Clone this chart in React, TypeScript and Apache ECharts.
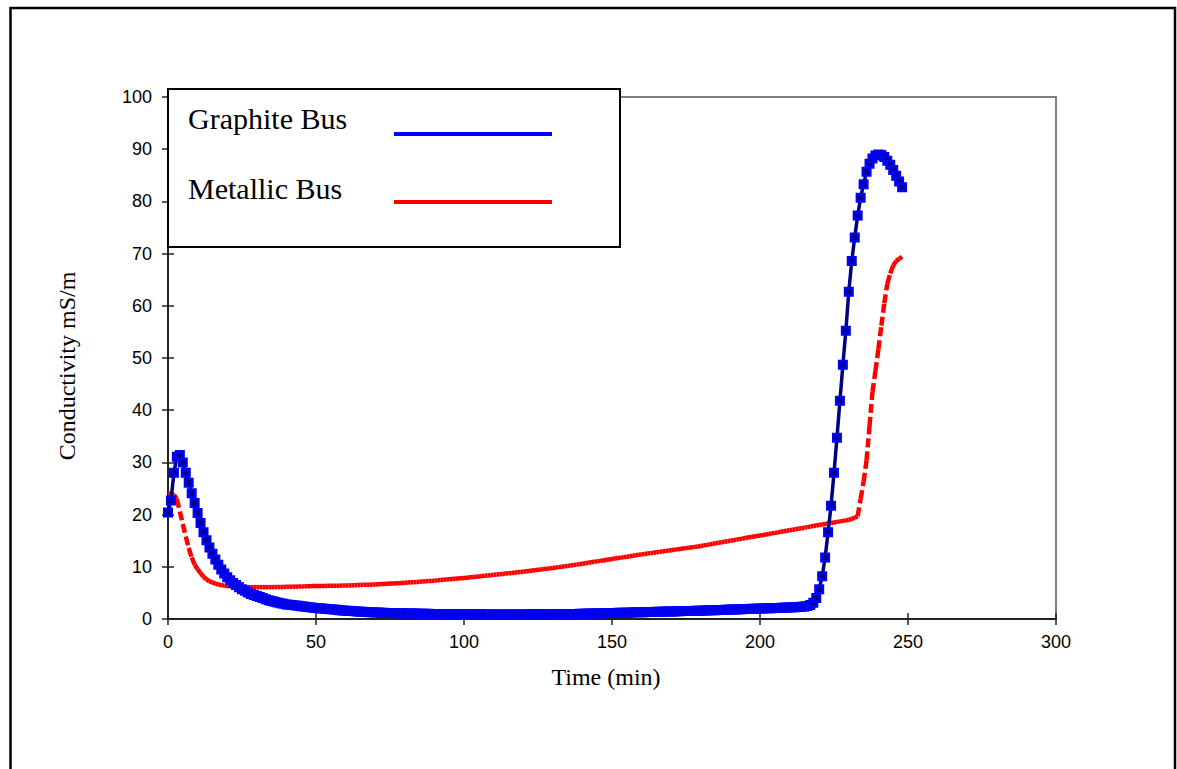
import React, { useEffect, useRef } from "react";
import * as echarts from "echarts";

// Data logged once per minute, starting at t = 0 min
const sampleIntervalMin = 1;

const graphiteBus = [
  20.4, 22.7, 28.0, 31.1, 31.4, 30.0, 28.0, 26.1, 24.1, 22.2,
  20.3, 18.4, 16.6, 15.1, 13.7, 12.5, 11.4, 10.4, 9.5, 8.7,
  8.0, 7.4, 6.9, 6.5, 6.1, 5.7, 5.4, 5.1, 4.8, 4.6,
  4.4, 4.2, 4.0, 3.8, 3.6, 3.45, 3.3, 3.15, 3.0, 2.9,
  2.8, 2.73, 2.66, 2.59, 2.52, 2.45, 2.38, 2.31, 2.24, 2.17,
  2.1, 2.05, 2.0, 1.95, 1.9, 1.85, 1.8, 1.75, 1.7, 1.65,
  1.6, 1.56, 1.52, 1.48, 1.44, 1.4, 1.37, 1.34, 1.31, 1.28,
  1.25, 1.23, 1.21, 1.19, 1.17, 1.15, 1.14, 1.12, 1.11, 1.09,
  1.08, 1.07, 1.06, 1.05, 1.03, 1.02, 1.01, 1.0, 0.99, 0.98,
  0.97, 0.96, 0.95, 0.95, 0.94, 0.93, 0.92, 0.92, 0.91, 0.91,
  0.9, 0.9, 0.9, 0.89, 0.89, 0.89, 0.89, 0.88, 0.88, 0.88,
  0.88, 0.88, 0.88, 0.88, 0.88, 0.88, 0.88, 0.88, 0.88, 0.88,
  0.88, 0.88, 0.89, 0.89, 0.89, 0.9, 0.9, 0.9, 0.91, 0.91,
  0.92, 0.93, 0.93, 0.94, 0.95, 0.96, 0.96, 0.97, 0.98, 0.99,
  1.0, 1.01, 1.03, 1.04, 1.06, 1.07, 1.09, 1.1, 1.12, 1.13,
  1.15, 1.16, 1.18, 1.19, 1.21, 1.22, 1.24, 1.25, 1.27, 1.28,
  1.3, 1.31, 1.33, 1.34, 1.36, 1.37, 1.39, 1.4, 1.42, 1.43,
  1.45, 1.46, 1.48, 1.49, 1.51, 1.52, 1.54, 1.55, 1.57, 1.58,
  1.6, 1.62, 1.64, 1.66, 1.68, 1.7, 1.72, 1.74, 1.76, 1.78,
  1.8, 1.82, 1.84, 1.86, 1.88, 1.9, 1.92, 1.94, 1.96, 1.98,
  2.0, 2.02, 2.04, 2.06, 2.08, 2.1, 2.12, 2.14, 2.16, 2.18,
  2.2, 2.23, 2.26, 2.3, 2.34, 2.4, 2.5, 2.7, 3.1, 4.0,
  5.7, 8.2, 11.8, 16.6, 21.7, 28.0, 34.7, 41.8, 48.7, 55.2,
  62.7, 68.6, 73.1, 77.3, 80.7, 83.3, 85.7, 87.2, 88.2, 88.8,
  89.0, 88.9, 88.5, 87.8, 87.0, 86.0, 84.9, 83.8, 82.7,
];

const metallicBus = [
  24.0, 24.0, 23.8, 23.0, 20.6, 18.2, 15.8, 13.6, 11.8, 10.4,
  9.5, 8.8, 8.1, 7.6, 7.2, 7.0, 6.8, 6.6, 6.5, 6.4,
  6.3, 6.25, 6.2, 6.2, 6.15, 6.15, 6.1, 6.1, 6.1, 6.1,
  6.1, 6.1, 6.1, 6.1, 6.1, 6.1, 6.12, 6.12, 6.14, 6.15,
  6.16, 6.18, 6.2, 6.2, 6.22, 6.24, 6.25, 6.26, 6.28, 6.3,
  6.31, 6.32, 6.33, 6.34, 6.35, 6.36, 6.37, 6.38, 6.39, 6.4,
  6.42, 6.44, 6.46, 6.48, 6.5, 6.52, 6.54, 6.56, 6.58, 6.6,
  6.63, 6.66, 6.69, 6.72, 6.75, 6.78, 6.81, 6.84, 6.87, 6.9,
  6.94, 6.98, 7.02, 7.06, 7.1, 7.14, 7.18, 7.22, 7.26, 7.3,
  7.35, 7.4, 7.45, 7.5, 7.55, 7.6, 7.65, 7.7, 7.75, 7.8,
  7.86, 7.92, 7.98, 8.04, 8.1, 8.16, 8.22, 8.28, 8.34, 8.4,
  8.46, 8.52, 8.58, 8.64, 8.7, 8.76, 8.82, 8.88, 8.94, 9.0,
  9.07, 9.14, 9.21, 9.28, 9.35, 9.42, 9.49, 9.56, 9.63, 9.7,
  9.78, 9.86, 9.94, 10.02, 10.1, 10.18, 10.26, 10.34, 10.42, 10.5,
  10.59, 10.68, 10.77, 10.86, 10.95, 11.04, 11.13, 11.22, 11.31, 11.4,
  11.49, 11.58, 11.67, 11.76, 11.85, 11.94, 12.03, 12.12, 12.21, 12.3,
  12.38, 12.46, 12.54, 12.62, 12.7, 12.78, 12.86, 12.94, 13.02, 13.1,
  13.18, 13.26, 13.34, 13.42, 13.5, 13.58, 13.66, 13.74, 13.82, 13.9,
  14.0, 14.1, 14.2, 14.3, 14.4, 14.5, 14.6, 14.7, 14.8, 14.9,
  15.0, 15.1, 15.2, 15.3, 15.4, 15.5, 15.6, 15.7, 15.8, 15.9,
  16.0, 16.1, 16.2, 16.3, 16.4, 16.5, 16.6, 16.7, 16.8, 16.9,
  17.0, 17.1, 17.2, 17.3, 17.4, 17.5, 17.6, 17.7, 17.8, 17.9,
  18.0, 18.1, 18.2, 18.3, 18.4, 18.5, 18.6, 18.7, 18.8, 18.9,
  19.0, 19.2, 19.4, 19.7, 23.0, 26.3, 30.4, 37.0, 43.5, 47.5,
  51.7, 56.2, 60.5, 64.2, 66.2, 67.7, 68.6, 69.0, 69.4,
];

const seriesNames = ["Graphite Bus", "Metallic Bus"];
const xAxisTitle = "Time (min)";
const yAxisTitle = "Conductivity mS/m";
const xRange = { min: 0, max: 300, interval: 50 };
const yRange = { min: 0, max: 100, interval: 10 };

const AXIS_COLOR = "#222";
const GRID = { left: 168, right: 121, top: 97, bottom: 150 };

export default function App() {
  const ref = useRef<HTMLDivElement>(null);

  useEffect(() => {
    document.body.style.margin = "0";
    const chart = echarts.init(ref.current!, undefined, { renderer: "svg" });

    const graphiteData = graphiteBus.map((v, i) => [i * sampleIntervalMin, v]);
    const metallicSegments = metallicBus.slice(1).map((v, k) => [
      (k + 1) * sampleIntervalMin,
      v,
      k * sampleIntervalMin,
      metallicBus[k],
    ]);

    const labelStyle = {
      color: "#000",
      fontFamily: "Liberation Sans",
      fontSize: 18,
    };

    const option: any = {
      animation: false,
      backgroundColor: "#fff",
      grid: [
        {
          ...GRID,
          show: true,
          borderColor: "#808080",
          borderWidth: 2,
          backgroundColor: "transparent",
        },
        { ...GRID, show: false },
      ],
      xAxis: [
        {
          type: "value",
          gridIndex: 0,
          position: "bottom",
          ...xRange,
          axisLine: { show: true, onZero: false, lineStyle: { color: AXIS_COLOR, width: 2 } },
          axisTick: { show: true, inside: false, length: 6, lineStyle: { color: AXIS_COLOR, width: 1.5 } },
          axisLabel: { ...labelStyle, margin: 14 },
          splitLine: { show: false },
          name: xAxisTitle,
          nameLocation: "middle",
          nameGap: 46,
          nameTextStyle: {
            fontFamily: "Liberation Serif",
            fontSize: 24,
            color: "#000",
            padding: [0, 12, 0, 0],
          },
        },
        {
          type: "value",
          gridIndex: 1,
          position: "bottom",
          ...xRange,
          axisLine: { show: false, onZero: false },
          axisTick: { show: true, inside: true, length: 6, lineStyle: { color: AXIS_COLOR, width: 1.5 } },
          axisLabel: { show: false },
          splitLine: { show: false },
        },
      ],
      yAxis: [
        {
          type: "value",
          gridIndex: 0,
          position: "left",
          ...yRange,
          axisLine: { show: true, onZero: false, lineStyle: { color: AXIS_COLOR, width: 2 } },
          axisTick: { show: true, inside: false, length: 6, lineStyle: { color: AXIS_COLOR, width: 1.5 } },
          axisLabel: { ...labelStyle, margin: 16 },
          splitLine: { show: false },
          name: yAxisTitle,
          nameLocation: "middle",
          nameGap: 89,
          nameTextStyle: {
            fontFamily: "Liberation Serif",
            fontSize: 24,
            color: "#000",
            padding: [0, 16, 0, 0],
          },
        },
        {
          type: "value",
          gridIndex: 1,
          position: "left",
          ...yRange,
          axisLine: { show: false, onZero: false },
          axisTick: { show: true, inside: true, length: 6, lineStyle: { color: AXIS_COLOR, width: 1.5 } },
          axisLabel: { show: false },
          splitLine: { show: false },
        },
      ],
      series: [
        {
          name: seriesNames[1],
          type: "custom",
          xAxisIndex: 0,
          yAxisIndex: 0,
          z: 2,
          clip: true,
          encode: { x: 0, y: 1 },
          data: metallicSegments,
          renderItem: (_params: any, api: any) => {
            const p0 = api.coord([api.value(2), api.value(3)]);
            const p1 = api.coord([api.value(0), api.value(1)]);
            return {
              type: "line",
              shape: { x1: p0[0], y1: p0[1], x2: p1[0], y2: p1[1] },
              style: {
                stroke: "#FF0000",
                lineWidth: 4.5,
                lineDash: [9, 4],
                lineCap: "butt",
                fill: null,
              },
            };
          },
        },
        {
          name: seriesNames[0],
          type: "line",
          xAxisIndex: 0,
          yAxisIndex: 0,
          z: 3,
          data: graphiteData,
          showSymbol: true,
          showAllSymbol: true,
          symbol: "rect",
          symbolSize: 7.5,
          lineStyle: { color: "#000080", width: 3.5 },
          itemStyle: { color: "#000080", borderColor: "#0000FF", borderWidth: 2.5 },
        },
      ],
      graphic: [
        {
          type: "rect",
          silent: true,
          z: 1,
          shape: { x: 10.5, y: 8, width: 1164.5, height: 820 },
          style: { fill: "none", stroke: "#000", lineWidth: 2.5 },
        },
        {
          type: "group",
          z: 100,
          children: [
            {
              type: "rect",
              shape: { x: 168, y: 89, width: 452, height: 158 },
              style: { fill: "#fff", stroke: "#000", lineWidth: 2 },
              z: 100,
            },
            {
              type: "text",
              x: 188,
              y: 118,
              z: 101,
              style: {
                text: seriesNames[0],
                font: '30px "Liberation Serif"',
                fill: "#000",
                align: "left",
                verticalAlign: "middle",
              },
            },
            {
              type: "text",
              x: 188,
              y: 188,
              z: 101,
              style: {
                text: seriesNames[1],
                font: '30px "Liberation Serif"',
                fill: "#000",
                align: "left",
                verticalAlign: "middle",
              },
            },
            {
              type: "line",
              z: 101,
              shape: { x1: 394, y1: 134, x2: 552, y2: 134 },
              style: { stroke: "#0000FF", lineWidth: 4 },
            },
            {
              type: "line",
              z: 101,
              shape: { x1: 394, y1: 202, x2: 552, y2: 202 },
              style: { stroke: "#FF0000", lineWidth: 4 },
            },
          ],
        },
      ],
    };

    chart.setOption(option);
    return () => chart.dispose();
  }, []);

  return <div ref={ref} style={{ width: 1177, height: 769 }} />;
}
